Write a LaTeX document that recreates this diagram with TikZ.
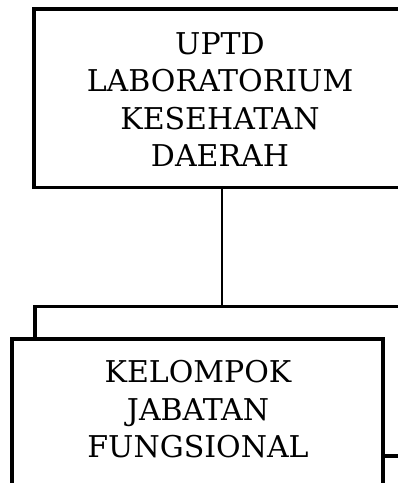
\documentclass[tikz,border=0pt]{standalone}
\usepackage{fontspec}
\setmainfont{DejaVu Serif}
\begin{document}
\begin{tikzpicture}[x=1pt,y=-1pt,
  unitbox/.style={draw=black, line width=3.4pt, outer sep=0pt, inner sep=0pt, rectangle, anchor=north west},
  unittext/.style={align=center, inner sep=0pt, anchor=north, font=\fontsize{30}{37.5}\selectfont},
  link/.style={draw=black, line width=1.8pt},
  bus/.style={draw=black, line width=3.4pt}]
  \useasboundingbox (0,0) rectangle (398,483);
  % head unit box, running off the right edge
  \node[unitbox, minimum width=390pt, minimum height=178.5pt] (head) at (34,9) {};
  \node[unittext] (headtxt) at (220,32) {UPTD\\LABORATORIUM\\KESEHATAN\\DAERAH};
  % functional group box, running off the bottom edge
  \node[unitbox, minimum width=371pt, minimum height=190pt] (group) at (12,339) {};
  \node[unittext] (grouptxt) at (198,360.5) {KELOMPOK\\JABATAN\\FUNGSIONAL};
  % connector points
  \coordinate (junction) at (222,306.5);
  \coordinate (busleft) at (35,306.5);
  \coordinate (busright) at (420,306.5);
  \coordinate (sideout) at (420,456);
  % lines
  \draw[link] (head.south -| junction) -- (junction);
  \draw[bus] (busright) -- (busleft) -- (busleft |- group.north);
  \draw[bus] (sideout -| group.east) -- (sideout);
\end{tikzpicture}
\end{document}
